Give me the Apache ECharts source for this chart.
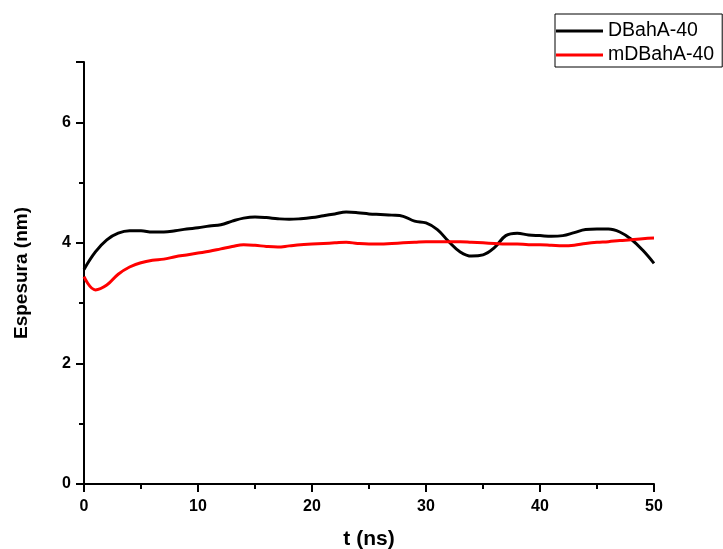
<!DOCTYPE html>
<html><head><meta charset="utf-8">
<script src="https://cdn.jsdelivr.net/npm/echarts@6/dist/echarts.min.js"></script>
<style>html,body{margin:0;padding:0;background:#fff}#c{width:723px;height:549px}</style>
</head><body><div id="c"></div>
<script>
const time = [0,1,2,3,4,5,6,7,8,9,10,11,12,13,14,15,16,17,18,19,20,21,22,23,24,25,26,27,28,29,30,31,32,33,34,35,36,37,38,39,40,41,42,43,44,45,46,47,48,49,50];
const dbaha40 = [3.56,3.85,4.05,4.16,4.20,4.20,4.18,4.18,4.20,4.23,4.25,4.28,4.30,4.36,4.41,4.43,4.42,4.40,4.39,4.40,4.42,4.45,4.48,4.51,4.50,4.48,4.47,4.46,4.44,4.36,4.33,4.22,4.02,3.85,3.78,3.80,3.92,4.12,4.16,4.13,4.12,4.11,4.12,4.17,4.22,4.23,4.23,4.18,4.06,3.88,3.66];
const mdbaha40 = [3.44,3.22,3.30,3.48,3.60,3.67,3.71,3.73,3.77,3.80,3.83,3.86,3.90,3.94,3.97,3.96,3.94,3.93,3.95,3.97,3.98,3.99,4.00,4.01,3.99,3.98,3.98,3.99,4.00,4.01,4.02,4.02,4.02,4.02,4.01,4.00,3.99,3.98,3.98,3.97,3.97,3.96,3.95,3.96,3.99,4.01,4.02,4.04,4.05,4.07,4.08];
const seriesNames = ['DBahA-40','mDBahA-40'];
const xTitle = 't (ns)';
const yTitle = 'Espesura (nm)';

const pair = arr => time.map((t,i)=>[t,arr[i]]);
const chart = echarts.init(document.getElementById('c'));
const font = 'Liberation Sans, Arial, sans-serif';
chart.setOption({
  animation:false,
  backgroundColor:'#fff',
  grid:{left:84,right:69,top:62,bottom:65,containLabel:false,outerBoundsMode:'none'},
  legend:{
    left:555, top:14, orient:'vertical', itemGap:4,
    itemWidth:47, itemHeight:3, icon:'rect',
    borderColor:'#000', borderWidth:1, padding:[7,8,2,1],
    textStyle:{fontFamily:font,fontSize:19.5,color:'#000'},
    data:seriesNames
  },
  xAxis:{
    type:'value', min:0, max:50, interval:10,
    name:xTitle, nameLocation:'middle', nameGap:45,
    nameTextStyle:{fontFamily:font,fontWeight:'bold',fontSize:21,color:'#000'},
    axisLine:{lineStyle:{color:'#000',width:2}},
    axisTick:{inside:false,length:8,lineStyle:{color:'#000',width:2}},
    minorTick:{show:true,splitNumber:2,length:5,lineStyle:{color:'#000',width:2}},
    axisLabel:{fontFamily:font,fontWeight:'bold',fontSize:16,color:'#000',margin:15},
    splitLine:{show:false}
  },
  yAxis:{
    type:'value', min:0, max:7, interval:2,
    name:yTitle, nameLocation:'middle', nameGap:53,
    nameTextStyle:{fontFamily:font,fontWeight:'bold',fontSize:19,color:'#000'},
    axisLine:{lineStyle:{color:'#000',width:2}},
    axisTick:{inside:false,length:8,lineStyle:{color:'#000',width:2}},
    minorTick:{show:true,splitNumber:2,length:5,lineStyle:{color:'#000',width:2}},
    axisLabel:{fontFamily:font,fontWeight:'bold',fontSize:16,color:'#000',margin:13,
      formatter:v=> (v%2===0? String(v):'')},
    splitLine:{show:false}
  },
  series:[
    {name:seriesNames[0],type:'line',data:pair(dbaha40),smooth:0.4,symbol:'none',
     lineStyle:{color:'#000',width:3},itemStyle:{color:'#000'}},
    {name:seriesNames[1],type:'line',data:pair(mdbaha40),smooth:0.4,symbol:'none',
     lineStyle:{color:'#ff0000',width:3},itemStyle:{color:'#ff0000'}}
  ]
});
</script></body></html>
